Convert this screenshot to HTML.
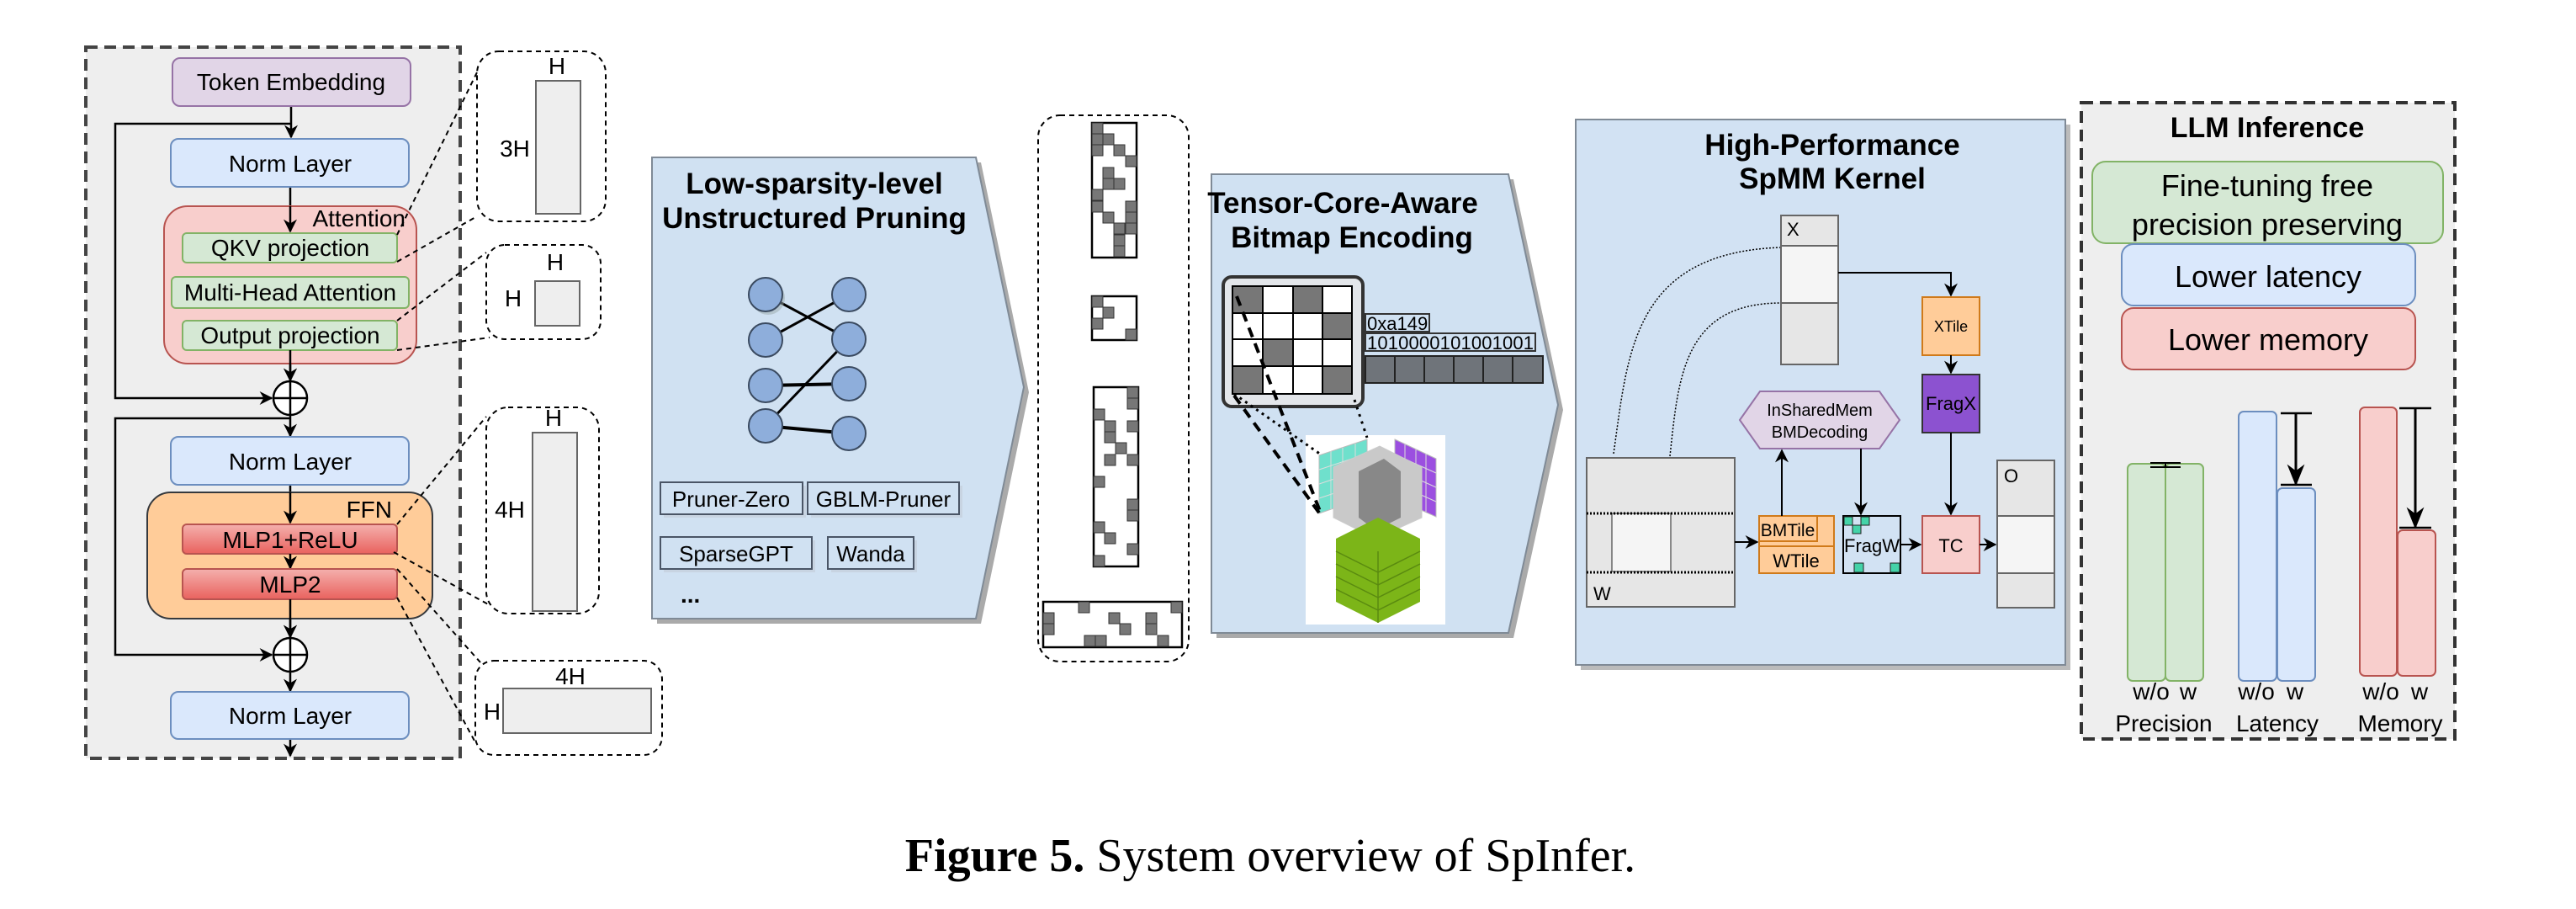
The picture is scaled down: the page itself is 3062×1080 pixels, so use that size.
<!DOCTYPE html>
<html><head><meta charset="utf-8"><style>
html,body{margin:0;padding:0;background:#fff;}
svg{display:block;}
text{font-family:"Liberation Sans",sans-serif;}
</style></head><body>
<svg width="3062" height="1080" viewBox="0 0 3062 1080" xmlns="http://www.w3.org/2000/svg">
<defs>
<marker id="a" viewBox="0 0 10 10" refX="9" refY="5" markerWidth="7" markerHeight="7" orient="auto-start-reverse" markerUnits="userSpaceOnUse"><path d="M0,0 L10,5 L0,10 L3,5 z" fill="#000"/></marker>
<marker id="b" viewBox="0 0 10 10" refX="9" refY="5" markerWidth="16" markerHeight="16" orient="auto" markerUnits="userSpaceOnUse"><path d="M0,0 L10,5 L0,10 L3,5 z" fill="#000"/></marker>
<marker id="c" viewBox="0 0 10 10" refX="9" refY="5" markerWidth="26" markerHeight="26" orient="auto" markerUnits="userSpaceOnUse"><path d="M0,1 L10,5 L0,9 L3,5 z" fill="#000"/></marker>
<linearGradient id="mlp" x1="0" y1="0" x2="0" y2="1"><stop offset="0" stop-color="#f4b0ad"/><stop offset="1" stop-color="#e9625e"/></linearGradient>
</defs>

<!-- ================= LEFT PANEL ================= -->
<rect x="102" y="56" width="445" height="845" fill="#eeeeee" stroke="#444" stroke-width="4" stroke-dasharray="14 8"/>
<g stroke="#000" stroke-width="2.5" fill="none">
<line x1="346" y1="126" x2="346" y2="163" marker-end="url(#b)"/>
<polyline points="346,147 137,147 137,473 323,473" marker-end="url(#b)"/>
<line x1="345" y1="222" x2="345" y2="275" marker-end="url(#b)"/>
<line x1="345" y1="312" x2="345" y2="328" marker-end="url(#b)"/>
<line x1="345" y1="366" x2="345" y2="380" marker-end="url(#b)"/>
<line x1="345" y1="416" x2="345" y2="452" marker-end="url(#b)"/>
<polyline points="345,497 137,497 137,778 323,778" marker-end="url(#b)"/>
<line x1="345" y1="493" x2="345" y2="518" marker-end="url(#b)"/>
<line x1="345" y1="576" x2="345" y2="621" marker-end="url(#b)"/>
<line x1="345" y1="658" x2="345" y2="675" marker-end="url(#b)"/>
<line x1="345" y1="712" x2="345" y2="757" marker-end="url(#b)"/>
<line x1="345" y1="798" x2="345" y2="821" marker-end="url(#b)"/>
<line x1="345" y1="878" x2="345" y2="898" marker-end="url(#b)"/>
</g>
<rect x="205" y="69" width="283" height="57" rx="9" fill="#e1d5e7" stroke="#9673a6" stroke-width="2"/>
<text x="346" y="107" font-size="28" text-anchor="middle">Token Embedding</text>
<rect x="203" y="165" width="283" height="57" rx="9" fill="#dae8fc" stroke="#6c8ebf" stroke-width="2"/>
<text x="345" y="204" font-size="28" text-anchor="middle">Norm Layer</text>
<rect x="195" y="245" width="300" height="187" rx="28" fill="#f8cecc" stroke="#b85450" stroke-width="2"/>
<line x1="345" y1="245" x2="345" y2="275" stroke="#000" stroke-width="2.5" marker-end="url(#b)"/>
<text x="482" y="269" font-size="28" text-anchor="end">Attention</text>
<rect x="217" y="277" width="255" height="35" rx="5" fill="#d5e8d4" stroke="#82b366" stroke-width="2"/>
<text x="345" y="304" font-size="28" text-anchor="middle">QKV projection</text>
<rect x="204" y="329" width="282" height="37" rx="5" fill="#d5e8d4" stroke="#82b366" stroke-width="2"/>
<text x="345" y="357" font-size="28" text-anchor="middle">Multi-Head Attention</text>
<rect x="217" y="381" width="255" height="35" rx="5" fill="#d5e8d4" stroke="#82b366" stroke-width="2"/>
<text x="345" y="408" font-size="28" text-anchor="middle">Output projection</text>
<line x1="345" y1="416" x2="345" y2="452" stroke="#000" stroke-width="2.5" marker-end="url(#b)"/>
<circle cx="345" cy="473" r="20" fill="#fff" stroke="#000" stroke-width="2.5"/>
<line x1="325" y1="473" x2="365" y2="473" stroke="#000" stroke-width="2.5"/><line x1="345" y1="453" x2="345" y2="493" stroke="#000" stroke-width="2.5"/>
<rect x="203" y="519" width="283" height="57" rx="9" fill="#dae8fc" stroke="#6c8ebf" stroke-width="2"/>
<text x="345" y="558" font-size="28" text-anchor="middle">Norm Layer</text>
<rect x="175" y="585" width="339" height="150" rx="28" fill="#ffcc99" stroke="#36393d" stroke-width="2"/>
<line x1="345" y1="585" x2="345" y2="621" stroke="#000" stroke-width="2.5" marker-end="url(#b)"/>
<text x="466" y="615" font-size="28" text-anchor="end">FFN</text>
<rect x="217" y="623" width="255" height="35" rx="5" fill="url(#mlp)" stroke="#b85450" stroke-width="2"/>
<text x="345" y="651" font-size="28" text-anchor="middle">MLP1+ReLU</text>
<line x1="345" y1="658" x2="345" y2="675" stroke="#000" stroke-width="2.5" marker-end="url(#b)"/>
<rect x="217" y="676" width="255" height="36" rx="5" fill="url(#mlp)" stroke="#b85450" stroke-width="2"/>
<text x="345" y="704" font-size="28" text-anchor="middle">MLP2</text>
<line x1="345" y1="712" x2="345" y2="757" stroke="#000" stroke-width="2.5" marker-end="url(#b)"/>
<circle cx="345" cy="778" r="20" fill="#fff" stroke="#000" stroke-width="2.5"/>
<line x1="325" y1="778" x2="365" y2="778" stroke="#000" stroke-width="2.5"/><line x1="345" y1="758" x2="345" y2="798" stroke="#000" stroke-width="2.5"/>
<rect x="203" y="822" width="283" height="56" rx="9" fill="#dae8fc" stroke="#6c8ebf" stroke-width="2"/>
<text x="345" y="860" font-size="28" text-anchor="middle">Norm Layer</text>

<!-- side shape boxes -->
<g fill="#fff" stroke="#000" stroke-width="2" stroke-dasharray="6 5">
<rect x="567" y="61" width="153" height="202" rx="26"/>
<rect x="578" y="291" width="136" height="112" rx="22"/>
<rect x="578" y="484" width="134" height="245" rx="26"/>
<rect x="565" y="785" width="222" height="112" rx="22"/>
</g>
<g stroke="#000" stroke-width="2" stroke-dasharray="6 5" fill="none">
<line x1="472" y1="279" x2="567" y2="86"/><line x1="472" y1="311" x2="567" y2="257"/>
<line x1="472" y1="381" x2="578" y2="300"/><line x1="472" y1="416" x2="582" y2="401"/>
<line x1="472" y1="623" x2="578" y2="495"/><line x1="468" y1="656" x2="582" y2="719"/>
<line x1="472" y1="676" x2="571" y2="787"/><line x1="472" y1="710" x2="565" y2="882"/>
</g>
<g fill="#eeeeee" stroke="#666" stroke-width="2">
<rect x="637" y="96" width="53" height="158"/>
<rect x="636" y="334" width="53" height="53"/>
<rect x="633" y="514" width="53" height="212"/>
<rect x="598" y="818" width="176" height="53"/>
</g>
<g font-size="28" text-anchor="middle">
<text x="662" y="88">H</text><text x="612" y="186">3H</text>
<text x="660" y="321">H</text><text x="610" y="364">H</text>
<text x="658" y="506">H</text><text x="606" y="615">4H</text>
<text x="678" y="813">4H</text><text x="585" y="855">H</text>
</g>

<!-- ================= PENTAGON 1 ================= -->
<polygon points="781,193 1166,193 1223,466 1166,741 781,741" fill="#aaa"/>
<polygon points="775,187 1160,187 1217,460 1160,735 775,735" fill="#d0e1f2" stroke="#7f8a96" stroke-width="2"/>
<text x="968" y="230" font-size="35" font-weight="bold" text-anchor="middle">Low-sparsity-level</text>
<text x="968" y="271" font-size="35" font-weight="bold" text-anchor="middle">Unstructured Pruning</text>
<g stroke="#000" stroke-width="3">
<line x1="910" y1="350" x2="1009" y2="403"/>
<line x1="910" y1="404" x2="1009" y2="350"/>
<line x1="910" y1="458" x2="1009" y2="456" stroke-width="4"/>
<line x1="910" y1="506" x2="1009" y2="403"/>
<line x1="910" y1="506" x2="1009" y2="515" stroke-width="4"/>
</g>
<g fill="#8eaedb" stroke="#3a4a60" stroke-width="2">
<circle cx="913" cy="354" r="20" fill="#9aa" stroke="none" opacity=".5"/>
<circle cx="910" cy="350" r="20"/><circle cx="910" cy="404" r="20"/><circle cx="910" cy="458" r="20"/><circle cx="910" cy="506" r="20"/>
<circle cx="1009" cy="350" r="20"/><circle cx="1009" cy="403" r="20"/><circle cx="1009" cy="456" r="20"/><circle cx="1009" cy="515" r="20"/>
</g>
<g fill="#c8d4e2" stroke="none">
<rect x="789" y="577" width="169" height="38"/><rect x="964" y="577" width="180" height="38"/>
<rect x="789" y="642" width="180" height="38"/><rect x="988" y="642" width="102" height="38"/>
</g>
<g fill="#d0e1f2" stroke="#4a5566" stroke-width="2">
<rect x="785" y="573" width="169" height="38"/><rect x="960" y="573" width="180" height="38"/>
<rect x="785" y="638" width="180" height="38"/><rect x="984" y="638" width="102" height="38"/>
</g>
<g font-size="26" text-anchor="middle">
<text x="869" y="602">Pruner-Zero</text><text x="1050" y="602">GBLM-Pruner</text>
<text x="875" y="667">SparseGPT</text><text x="1035" y="667">Wanda</text>
</g>
<text x="809" y="716" font-size="28" font-weight="bold">...</text>

<!-- ================= SPARSE MATRICES COLUMN ================= -->
<rect x="1234" y="137" width="179" height="649" rx="26" fill="#fff" stroke="#000" stroke-width="2" stroke-dasharray="6 5"/>
<g fill="#fff" stroke="#000" stroke-width="2.5">
<rect x="1298" y="146" width="53" height="160"/>
<rect x="1298" y="352" width="53" height="52"/>
<rect x="1300" y="460" width="53" height="213"/>
<rect x="1240" y="715" width="165" height="54"/>
</g>
<g fill="#777" stroke="#333" stroke-width="1">
<!-- m1 -->
<rect x="1298" y="146" width="13" height="13"/><rect x="1298" y="159" width="13" height="13"/><rect x="1311" y="159" width="13" height="13"/>
<rect x="1298" y="172" width="13" height="13"/><rect x="1324" y="172" width="13" height="13"/><rect x="1338" y="185" width="13" height="13"/>
<rect x="1311" y="199" width="13" height="13"/><rect x="1311" y="212" width="13" height="13"/><rect x="1324" y="212" width="13" height="13"/>
<rect x="1298" y="225" width="13" height="13"/><rect x="1298" y="239" width="13" height="13"/><rect x="1338" y="239" width="13" height="13"/>
<rect x="1311" y="252" width="13" height="13"/><rect x="1338" y="252" width="13" height="13"/><rect x="1324" y="265" width="13" height="13"/>
<rect x="1338" y="265" width="13" height="13"/><rect x="1324" y="279" width="13" height="13"/><rect x="1324" y="292" width="13" height="13"/>
<!-- m2 -->
<rect x="1298" y="352" width="13" height="13"/><rect x="1311" y="365" width="13" height="13"/><rect x="1298" y="378" width="13" height="13"/><rect x="1338" y="391" width="13" height="13"/>
<!-- m3 -->
<rect x="1340" y="460" width="13" height="13"/><rect x="1340" y="473" width="13" height="13"/><rect x="1300" y="486" width="13" height="13"/>
<rect x="1313" y="500" width="13" height="13"/><rect x="1340" y="500" width="13" height="13"/><rect x="1313" y="513" width="13" height="13"/>
<rect x="1326" y="526" width="13" height="13"/><rect x="1313" y="540" width="13" height="13"/><rect x="1340" y="540" width="13" height="13"/>
<rect x="1300" y="566" width="13" height="13"/><rect x="1340" y="593" width="13" height="13"/><rect x="1340" y="606" width="13" height="13"/>
<rect x="1300" y="620" width="13" height="13"/><rect x="1313" y="633" width="13" height="13"/><rect x="1340" y="646" width="13" height="13"/><rect x="1300" y="660" width="13" height="13"/>
<!-- m4 -->
<rect x="1282" y="715" width="13" height="13"/><rect x="1392" y="715" width="13" height="13"/>
<rect x="1240" y="728" width="13" height="13"/><rect x="1318" y="728" width="13" height="13"/><rect x="1362" y="728" width="13" height="13"/>
<rect x="1240" y="741" width="13" height="13"/><rect x="1331" y="741" width="13" height="13"/><rect x="1362" y="741" width="13" height="13"/>
<rect x="1289" y="755" width="13" height="13"/><rect x="1302" y="755" width="13" height="13"/><rect x="1376" y="755" width="13" height="13"/>
</g>

<!-- ================= PENTAGON 2 ================= -->
<polygon points="1446,213 1799,213 1858,487 1799,758 1446,758" fill="#aaa"/>
<polygon points="1440,207 1793,207 1852,481 1793,752 1440,752" fill="#d0e1f2" stroke="#7f8a96" stroke-width="2"/>
<text x="1596" y="253" font-size="35" font-weight="bold" text-anchor="middle">Tensor-Core-Aware</text>
<text x="1607" y="294" font-size="35" font-weight="bold" text-anchor="middle">Bitmap Encoding</text>
<rect x="1454" y="329" width="166" height="154" rx="10" fill="#e3e6ea" stroke="#333" stroke-width="4"/>
<g stroke="#000" stroke-width="2">
<rect x="1465" y="340" width="36" height="32" fill="#777"/><rect x="1501" y="340" width="36" height="32" fill="#fff"/><rect x="1537" y="340" width="35" height="32" fill="#777"/><rect x="1572" y="340" width="35" height="32" fill="#fff"/>
<rect x="1465" y="372" width="36" height="31" fill="#fff"/><rect x="1501" y="372" width="36" height="31" fill="#fff"/><rect x="1537" y="372" width="35" height="31" fill="#fff"/><rect x="1572" y="372" width="35" height="31" fill="#777"/>
<rect x="1465" y="403" width="36" height="32" fill="#fff"/><rect x="1501" y="403" width="36" height="32" fill="#777"/><rect x="1537" y="403" width="35" height="32" fill="#fff"/><rect x="1572" y="403" width="35" height="32" fill="#fff"/>
<rect x="1465" y="435" width="36" height="33" fill="#777"/><rect x="1501" y="435" width="36" height="33" fill="#fff"/><rect x="1537" y="435" width="35" height="33" fill="#fff"/><rect x="1572" y="435" width="35" height="33" fill="#777"/>
</g>
<rect x="1623" y="373" width="76" height="21" fill="#d0e1f2" stroke="#333" stroke-width="2"/>
<text x="1625" y="392" font-size="22">0xa149</text>
<rect x="1623" y="396" width="202" height="21" fill="#d0e1f2" stroke="#333" stroke-width="2"/>
<text x="1625" y="415" font-size="22" textLength="198">1010000101001001</text>
<g fill="#6f747a" stroke="#222" stroke-width="2">
<rect x="1623" y="423" width="35" height="32"/><rect x="1658" y="423" width="35" height="32"/><rect x="1693" y="423" width="35" height="32"/>
<rect x="1728" y="423" width="35" height="32"/><rect x="1763" y="423" width="35" height="32"/><rect x="1798" y="423" width="36" height="32"/>
</g>
<!-- cube image -->
<rect x="1552" y="517" width="166" height="225" fill="#fff"/>
<polygon points="1568,541 1625,522 1625,590 1568,610" fill="#6fe0cc" stroke="#bbb"/>
<polygon points="1658,522 1707,545 1707,614 1658,592" fill="#9b4fe0" stroke="#bbb"/>
<g stroke="#ddd" stroke-width="1" fill="none">
<line x1="1568" y1="558" x2="1625" y2="539"/><line x1="1568" y1="575" x2="1625" y2="556"/><line x1="1568" y1="592" x2="1625" y2="573"/>
<line x1="1582" y1="536" x2="1582" y2="605"/><line x1="1596" y1="532" x2="1596" y2="600"/><line x1="1611" y1="527" x2="1611" y2="595"/>
<line x1="1658" y1="540" x2="1707" y2="562"/><line x1="1658" y1="557" x2="1707" y2="579"/><line x1="1658" y1="574" x2="1707" y2="596"/>
<line x1="1670" y1="528" x2="1670" y2="597"/><line x1="1683" y1="534" x2="1683" y2="603"/><line x1="1695" y1="539" x2="1695" y2="608"/>
</g>
<polygon points="1585,555 1640,530 1690,555 1690,615 1635,640 1585,615" fill="#c9c9c9" stroke="#ccc"/>
<polygon points="1615,560 1645,545 1665,560 1665,615 1635,630 1615,615" fill="#888"/>
<polygon points="1588,640 1638,615 1688,640 1688,715 1638,740 1588,715" fill="#7cb518"/>
<g stroke="#5a8a10" stroke-width="1.5">
<line x1="1588" y1="655" x2="1638" y2="680"/><line x1="1588" y1="670" x2="1638" y2="695"/><line x1="1588" y1="685" x2="1638" y2="710"/><line x1="1588" y1="700" x2="1638" y2="725"/>
<line x1="1638" y1="680" x2="1688" y2="655"/><line x1="1638" y1="695" x2="1688" y2="670"/><line x1="1638" y1="710" x2="1688" y2="685"/><line x1="1638" y1="725" x2="1688" y2="700"/>
<line x1="1638" y1="655" x2="1638" y2="740"/>
</g>
<g stroke="#000" fill="none">
<line x1="1470" y1="352" x2="1570" y2="610" stroke-width="4" stroke-dasharray="12 8"/>
<line x1="1467" y1="470" x2="1570" y2="612" stroke-width="4" stroke-dasharray="12 8"/>
<line x1="1467" y1="468" x2="1570" y2="540" stroke-width="3" stroke-dasharray="3 5"/>
<line x1="1610" y1="475" x2="1625" y2="520" stroke-width="3" stroke-dasharray="3 6"/>
</g>

<!-- ================= SpMM PANEL ================= -->
<rect x="1879" y="148" width="582" height="648" fill="#bbb"/>
<rect x="1873" y="142" width="582" height="648" fill="#d2e2f3" stroke="#7f8a96" stroke-width="2"/>
<text x="2178" y="184" font-size="35" font-weight="bold" text-anchor="middle">High-Performance</text>
<text x="2178" y="224" font-size="35" font-weight="bold" text-anchor="middle">SpMM Kernel</text>
<g stroke="#000" stroke-width="1.5" fill="none" stroke-dasharray="2 2">
<path d="M1918,539 C1935,420 1940,300 2117,294"/>
<path d="M1985,542 C1995,450 2000,360 2117,360"/>
</g>
<rect x="2117" y="256" width="68" height="177" fill="#e6e6e6" stroke="#666" stroke-width="2"/>
<rect x="2117" y="292" width="68" height="68" fill="#f5f5f5" stroke="#666" stroke-width="2"/>
<text x="2124" y="280" font-size="22">X</text>
<polyline points="2185,324 2319,324 2319,351" fill="none" stroke="#000" stroke-width="2" marker-end="url(#b)"/>
<rect x="2285" y="353" width="68" height="69" fill="#ffcc99" stroke="#d07a1a" stroke-width="2"/>
<text x="2319" y="394" font-size="18" text-anchor="middle">XTile</text>
<line x1="2319" y1="422" x2="2319" y2="443" stroke="#000" stroke-width="2" marker-end="url(#b)"/>
<rect x="2285" y="445" width="68" height="69" fill="#8c52d0" stroke="#333" stroke-width="2"/>
<text x="2319" y="487" font-size="22" text-anchor="middle">FragX</text>
<line x1="2319" y1="514" x2="2319" y2="611" stroke="#000" stroke-width="2" marker-end="url(#b)"/>
<polygon points="2068,499 2092,465 2234,465 2258,499 2234,533 2092,533" fill="#e1d5e7" stroke="#9673a6" stroke-width="2"/>
<text x="2163" y="494" font-size="20" text-anchor="middle">InSharedMem</text>
<text x="2163" y="520" font-size="20" text-anchor="middle">BMDecoding</text>
<rect x="1886" y="544" width="176" height="177" fill="#e6e6e6" stroke="#666" stroke-width="2"/>
<rect x="1916" y="610" width="70" height="69" fill="#f5f5f5" stroke="#666" stroke-width="1.5"/>
<line x1="1886" y1="610" x2="2062" y2="610" stroke="#000" stroke-width="3" stroke-dasharray="2 2"/>
<line x1="1886" y1="680" x2="2062" y2="680" stroke="#000" stroke-width="3" stroke-dasharray="2 2"/>
<text x="1894" y="713" font-size="22">W</text>
<line x1="2062" y1="644" x2="2089" y2="644" stroke="#000" stroke-width="2" marker-end="url(#b)"/>
<rect x="2091" y="613" width="89" height="68" fill="#ffcc99" stroke="#d07a1a" stroke-width="2"/>
<rect x="2091" y="613" width="69" height="30" fill="#ffcc99" stroke="#d07a1a" stroke-width="2"/>
<line x1="2091" y1="649" x2="2180" y2="649" stroke="#d07a1a" stroke-width="2"/>
<text x="2125" y="637" font-size="21" text-anchor="middle">BMTile</text>
<text x="2135" y="674" font-size="22" text-anchor="middle">WTile</text>
<line x1="2118" y1="613" x2="2118" y2="535" stroke="#000" stroke-width="2" marker-end="url(#b)"/>
<line x1="2212" y1="533" x2="2212" y2="611" stroke="#000" stroke-width="2" marker-end="url(#b)"/>
<rect x="2191" y="613" width="68" height="68" fill="#d2e2f3" stroke="#000" stroke-width="2"/>
<g fill="#44d3a8" stroke="#222" stroke-width="1">
<rect x="2192" y="614" width="10" height="10"/><rect x="2212" y="614" width="10" height="10"/><rect x="2202" y="624" width="10" height="10"/>
<rect x="2204" y="669" width="11" height="11"/><rect x="2247" y="669" width="11" height="11"/>
</g>
<text x="2225" y="656" font-size="22" text-anchor="middle">FragW</text>
<line x1="2259" y1="647" x2="2283" y2="647" stroke="#000" stroke-width="2" marker-end="url(#b)"/>
<rect x="2285" y="613" width="68" height="68" fill="#f8cecc" stroke="#b85450" stroke-width="2"/>
<text x="2319" y="656" font-size="22" text-anchor="middle">TC</text>
<line x1="2353" y1="647" x2="2372" y2="647" stroke="#000" stroke-width="2" marker-end="url(#b)"/>
<rect x="2374" y="547" width="68" height="175" fill="#e6e6e6" stroke="#666" stroke-width="2"/>
<rect x="2374" y="613" width="68" height="68" fill="#f5f5f5" stroke="#666" stroke-width="2"/>
<text x="2382" y="573" font-size="22">O</text>

<!-- ================= LLM INFERENCE ================= -->
<rect x="2474" y="122" width="444" height="756" fill="#eeeeee" stroke="#333" stroke-width="4" stroke-dasharray="14 8"/>
<text x="2695" y="163" font-size="34" font-weight="bold" text-anchor="middle">LLM Inference</text>
<rect x="2487" y="192" width="417" height="97" rx="16" fill="#d5e8d4" stroke="#82b366" stroke-width="2"/>
<text x="2695" y="233" font-size="36" text-anchor="middle">Fine-tuning free</text>
<text x="2695" y="279" font-size="36" text-anchor="middle">precision preserving</text>
<rect x="2522" y="290" width="349" height="73" rx="14" fill="#dae8fc" stroke="#6c8ebf" stroke-width="2"/>
<text x="2696" y="341" font-size="36" text-anchor="middle">Lower latency</text>
<rect x="2522" y="366" width="349" height="73" rx="14" fill="#f8cecc" stroke="#b85450" stroke-width="2"/>
<text x="2696" y="416" font-size="36" text-anchor="middle">Lower memory</text>
<rect x="2529" y="551" width="45" height="258" rx="6" fill="#d5e8d4" stroke="#82b366" stroke-width="2"/>
<rect x="2574" y="551" width="45" height="258" rx="6" fill="#d5e8d4" stroke="#82b366" stroke-width="2"/>
<g stroke="#000" stroke-width="2"><line x1="2556" y1="550" x2="2592" y2="550"/><line x1="2556" y1="555" x2="2592" y2="555"/><line x1="2574" y1="550" x2="2574" y2="555"/></g>
<rect x="2661" y="489" width="45" height="320" rx="6" fill="#dae8fc" stroke="#6c8ebf" stroke-width="2"/>
<rect x="2707" y="580" width="45" height="229" rx="6" fill="#dae8fc" stroke="#6c8ebf" stroke-width="2"/>
<g stroke="#000" stroke-width="2.5"><line x1="2711" y1="491" x2="2748" y2="491"/><line x1="2711" y1="576" x2="2748" y2="576"/></g>
<line x1="2729" y1="491" x2="2729" y2="575" stroke="#000" stroke-width="3" marker-end="url(#c)"/>
<rect x="2805" y="484" width="44" height="319" rx="6" fill="#f8cecc" stroke="#b85450" stroke-width="2"/>
<rect x="2850" y="630" width="45" height="173" rx="6" fill="#f8cecc" stroke="#b85450" stroke-width="2"/>
<g stroke="#000" stroke-width="2.5"><line x1="2852" y1="485" x2="2890" y2="485"/><line x1="2852" y1="627" x2="2890" y2="627"/></g>
<line x1="2871" y1="485" x2="2871" y2="626" stroke="#000" stroke-width="3" marker-end="url(#c)"/>
<g font-size="28" text-anchor="middle">
<text x="2557" y="831">w/o</text><text x="2601" y="831">w</text>
<text x="2682" y="831">w/o</text><text x="2728" y="831">w</text>
<text x="2830" y="831">w/o</text><text x="2876" y="831">w</text>
<text x="2572" y="869">Precision</text><text x="2707" y="869">Latency</text><text x="2853" y="869">Memory</text>
</g>

<!-- caption -->
<text x="1510" y="1035" font-size="56" text-anchor="middle" style="font-family:'Liberation Serif',serif"><tspan font-weight="bold">Figure 5.</tspan> System overview of SpInfer.</text>
</svg>
</body></html>
